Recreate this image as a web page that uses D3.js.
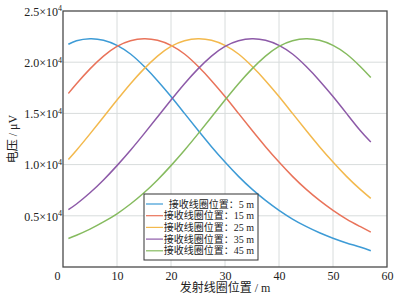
<!DOCTYPE html>
<html><head><meta charset="utf-8">
<script src="https://cdn.jsdelivr.net/npm/d3@7/dist/d3.min.js"></script>
<style>
body{margin:0;background:#fff;}
svg text{font-family:"Liberation Serif","Noto Sans CJK SC",serif;fill:#222;}
</style></head>
<body><svg id="c" width="400" height="296"></svg>
<script>
// transmitter coil position (m)
const xPos = [1, 2.5, 5, 7.5, 10, 12.5, 15, 17.5, 20, 22.5, 25, 27.5, 30, 32.5, 35, 37.5, 40, 42.5, 45, 47.5, 50, 52.5, 55, 57];
// voltage (×10^4 μV) per receiver coil position
const rx5  = [2.175, 2.21, 2.23, 2.215, 2.165, 2.08, 1.96, 1.82, 1.665, 1.50, 1.335, 1.175, 1.025, 0.885, 0.76, 0.65, 0.553, 0.468, 0.396, 0.334, 0.281, 0.235, 0.195, 0.158];
const rx15 = [1.695, 1.79, 1.935, 2.06, 2.155, 2.21, 2.23, 2.215, 2.165, 2.08, 1.96, 1.82, 1.665, 1.50, 1.335, 1.175, 1.025, 0.885, 0.76, 0.65, 0.553, 0.468, 0.396, 0.34];
const rx25 = [1.05, 1.14, 1.30, 1.465, 1.63, 1.79, 1.935, 2.06, 2.155, 2.21, 2.23, 2.215, 2.165, 2.08, 1.96, 1.82, 1.665, 1.50, 1.335, 1.175, 1.025, 0.885, 0.76, 0.67];
const rx35 = [0.56, 0.615, 0.725, 0.85, 0.99, 1.14, 1.30, 1.465, 1.63, 1.79, 1.935, 2.06, 2.155, 2.21, 2.23, 2.215, 2.165, 2.08, 1.96, 1.82, 1.665, 1.50, 1.335, 1.22];
const rx45 = [0.278, 0.31, 0.37, 0.44, 0.52, 0.615, 0.725, 0.85, 0.99, 1.14, 1.30, 1.465, 1.63, 1.79, 1.935, 2.06, 2.155, 2.21, 2.23, 2.215, 2.165, 2.08, 1.96, 1.85];
const seriesNames = ["接收线圈位置：5 m", "接收线圈位置：15 m", "接收线圈位置：25 m", "接收线圈位置：35 m", "接收线圈位置：45 m"];
const colors = ["#3d9bd6", "#e9735a", "#f3b94d", "#8d5aa8", "#86bb5f"];
const xTicks = [0, 10, 20, 30, 40, 50, 60];
const yTicks = [0.5, 1.0, 1.5, 2.0, 2.5];
const xTitle = "发射线圈位置 / m";
const yTitle = "电压 / μV";

const allSeries = [rx5, rx15, rx25, rx35, rx45];
const svg = d3.select("#c");
const L = 63, R = 387, T = 11, B = 267;
const x = d3.scaleLinear().domain([0, 60]).range([L, R]);
const y = d3.scaleLinear().domain([0, 2.5]).range([B, T]);

// grid
const g = svg.append("g");
g.selectAll(".vg").data(xTicks.slice(1, -1)).join("line")
  .attr("x1", d => x(d)).attr("x2", d => x(d)).attr("y1", T).attr("y2", B)
  .attr("stroke", "#d8dcdc").attr("stroke-width", 1);
g.selectAll(".hg").data(yTicks.slice(0, -1)).join("line")
  .attr("x1", L).attr("x2", R).attr("y1", d => y(d)).attr("y2", d => y(d))
  .attr("stroke", "#d8dcdc").attr("stroke-width", 1);

// lines
const line = d3.line().x((d, i) => x(xPos[i])).y(d => y(d)).curve(d3.curveNatural);
allSeries.forEach((s, k) => {
  svg.append("path").attr("d", line(s)).attr("fill", "none")
    .attr("stroke", colors[k]).attr("stroke-width", 1.5);
});

// frame
svg.append("rect").attr("x", L).attr("y", T).attr("width", R - L).attr("height", B - T)
  .attr("fill", "none").attr("stroke", "#4a4a4a").attr("stroke-width", 1.3);

// x axis labels
const xa = svg.append("g").attr("transform", `translate(0,${B})`)
  .call(d3.axisBottom(x).tickValues(xTicks).tickSize(0).tickPadding(4).tickFormat(d3.format("d")));
xa.select(".domain").remove();
xa.selectAll("text").attr("font-size", 12).attr("font-family", "Liberation Serif").attr("fill", "#222")
  .attr("dx", d => d === 0 ? -6 : 0);

// y axis labels
const ya = svg.append("g").attr("transform", `translate(${L},0)`)
  .call(d3.axisLeft(y).tickValues(yTicks).tickSize(0).tickPadding(2).tickFormat(""));
ya.select(".domain").remove();
ya.selectAll(".tick").each(function(d) {
  const t = d3.select(this).append("text").attr("x", -1).attr("dy", "0.35em")
    .attr("text-anchor", "end").attr("font-size", 12).attr("fill", "#222");
  t.append("tspan").text(d3.format(".1f")(d) + "×10");
  t.append("tspan").attr("font-size", 8).attr("dy", "-0.55em").text("4");
});

// titles
svg.append("text").attr("x", (L + R) / 2).attr("y", 292).attr("text-anchor", "middle")
  .attr("font-size", 12).text(xTitle);
svg.append("text").attr("transform", `translate(17,${(T + B) / 2}) rotate(-90)`)
  .attr("text-anchor", "middle").attr("font-size", 12).text(yTitle);

// legend
const lg = svg.append("g");
lg.append("rect").attr("x", 144).attr("y", 194).attr("width", 114).attr("height", 66)
  .attr("fill", "#fff").attr("stroke", "#333").attr("stroke-width", 1);
seriesNames.forEach((n, k) => {
  const yy = 204 + k * 11.7;
  lg.append("line").attr("x1", 146).attr("x2", 163).attr("y1", yy).attr("y2", yy)
    .attr("stroke", colors[k]).attr("stroke-width", 1.2);
  lg.append("text").attr("x", 254).attr("y", yy).attr("dy", "0.35em").attr("text-anchor", "end")
    .attr("font-size", 10).text(n);
});
</script></body></html>
